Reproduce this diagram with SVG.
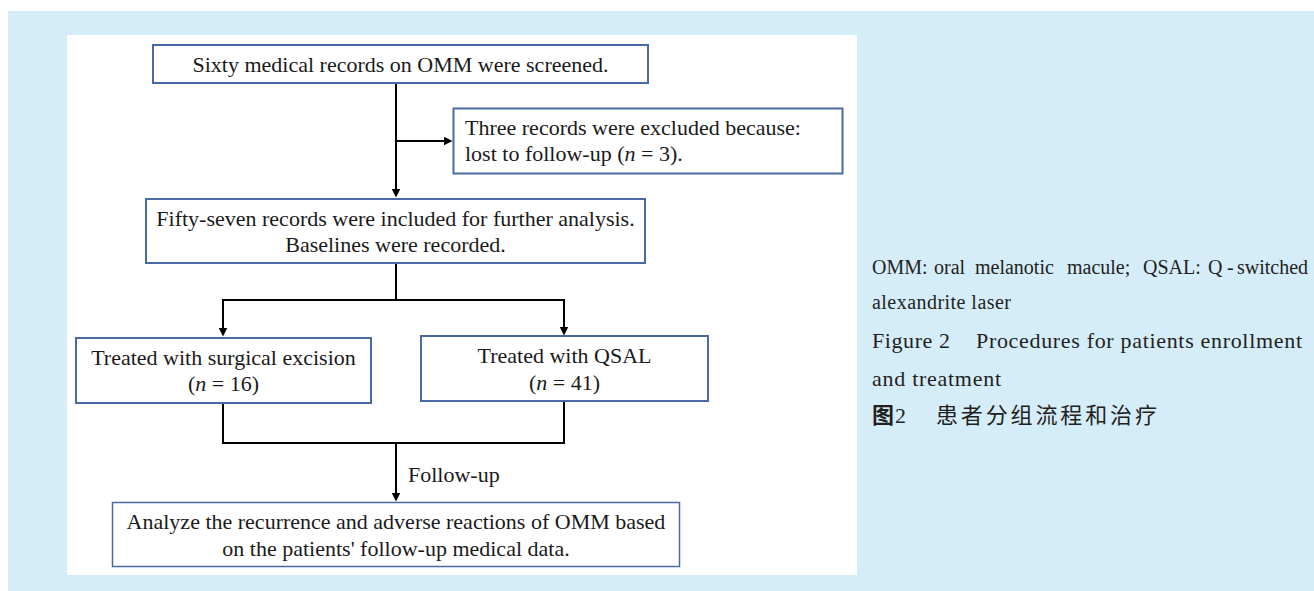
<svg xmlns="http://www.w3.org/2000/svg" width="1314" height="591" viewBox="0 0 1314 591">
<style>
.box{fill:#ffffff;stroke:#4a6aa6;stroke-width:2}
.t{font-family:"Liberation Serif","Times New Roman",serif;font-size:22px;fill:#1a1a1a}
.c{text-anchor:middle}
.wire{fill:none;stroke:#000;stroke-width:2}
.cap{font-family:"Liberation Serif","Times New Roman",serif;fill:#231f20}
.cjk{font-family:"Noto Sans CJK SC",sans-serif;fill:#231f20;font-size:22px}
</style>
<defs>
<marker id="ah" markerUnits="userSpaceOnUse" markerWidth="10" markerHeight="10" refX="0.5" refY="4.5" orient="auto">
<path d="M0,0 L9,4.5 L0,9 z" fill="#000"/>
</marker>
</defs>
<rect x="0" y="0" width="1314" height="591" fill="#ffffff"/>
<rect x="8" y="11" width="1306" height="580" fill="#d5ecf9"/>
<rect x="67" y="35" width="790" height="540" fill="#ffffff"/>

<g id="connectors">
<path class="wire" d="M396,83 V189" marker-end="url(#ah)"/>
<path class="wire" d="M396,141 H444" marker-end="url(#ah)"/>
<path class="wire" d="M396,263 V300"/>
<path class="wire" d="M223,300 H564"/>
<path class="wire" d="M223,299 V328" marker-end="url(#ah)"/>
<path class="wire" d="M564,299 V327" marker-end="url(#ah)"/>
<path class="wire" d="M223,403 V443 H564 V401"/>
<path class="wire" d="M396,443 V493" marker-end="url(#ah)"/>
<text class="t" x="408" y="481.5">Follow-up</text>
</g>

<g id="n1">
<rect class="box" x="153" y="45" width="495" height="38"/>
<text class="t c" x="400.5" y="72">Sixty medical records on OMM were screened.</text>
</g>
<g id="n2">
<rect class="box" x="453.5" y="108.5" width="389" height="65"/>
<text class="t" x="465" y="135">Three records were excluded because:</text>
<text class="t" x="465" y="161">lost to follow-up (<tspan font-style="italic">n</tspan> = 3).</text>
</g>
<g id="n3">
<rect class="box" x="146" y="199" width="499" height="64"/>
<text class="t c" x="395.5" y="226">Fifty-seven records were included for further analysis.</text>
<text class="t c" x="395.5" y="252">Baselines were recorded.</text>
</g>
<g id="n4">
<rect class="box" x="76" y="338" width="295" height="65"/>
<text class="t c" x="223.5" y="365">Treated with surgical excision</text>
<text class="t c" x="223.5" y="391">(<tspan font-style="italic">n</tspan> = 16)</text>
</g>
<g id="n5">
<rect class="box" x="421" y="336" width="287" height="65"/>
<text class="t c" x="564.5" y="363">Treated with QSAL</text>
<text class="t c" x="564.5" y="390">(<tspan font-style="italic">n</tspan> = 41)</text>
</g>
<g id="n6">
<rect class="box" x="112.5" y="502.5" width="567" height="64" style="stroke-width:1.5"/>
<text class="t c" x="396" y="529">Analyze the recurrence and adverse reactions of OMM based</text>
<text class="t c" x="396" y="556">on the patients' follow-up medical data.</text>
</g>

<g id="caption">
<text class="cap" font-size="20" y="274"><tspan x="872">OMM:</tspan><tspan x="934">oral</tspan><tspan x="975">melanotic</tspan><tspan x="1067">macule;</tspan><tspan x="1143">QSAL:</tspan><tspan x="1208">Q</tspan><tspan x="1227">-</tspan><tspan x="1237">switched</tspan></text>
<text class="cap" font-size="20" x="872" y="309" textLength="139" lengthAdjust="spacing">alexandrite laser</text>
<text class="cap" font-size="22" y="348"><tspan x="872" textLength="78" lengthAdjust="spacing">Figure 2</tspan><tspan x="976" textLength="326" lengthAdjust="spacing">Procedures for patients enrollment</tspan></text>
<text class="cap" font-size="22" x="872" y="386" textLength="129" lengthAdjust="spacing">and treatment</text>
<text class="cjk" y="423"><tspan x="872" font-weight="bold">图</tspan><tspan x="895" font-family="Liberation Serif, serif">2</tspan><tspan x="936" textLength="221" lengthAdjust="spacing">患者分组流程和治疗</tspan></text>
</g>
</svg>
